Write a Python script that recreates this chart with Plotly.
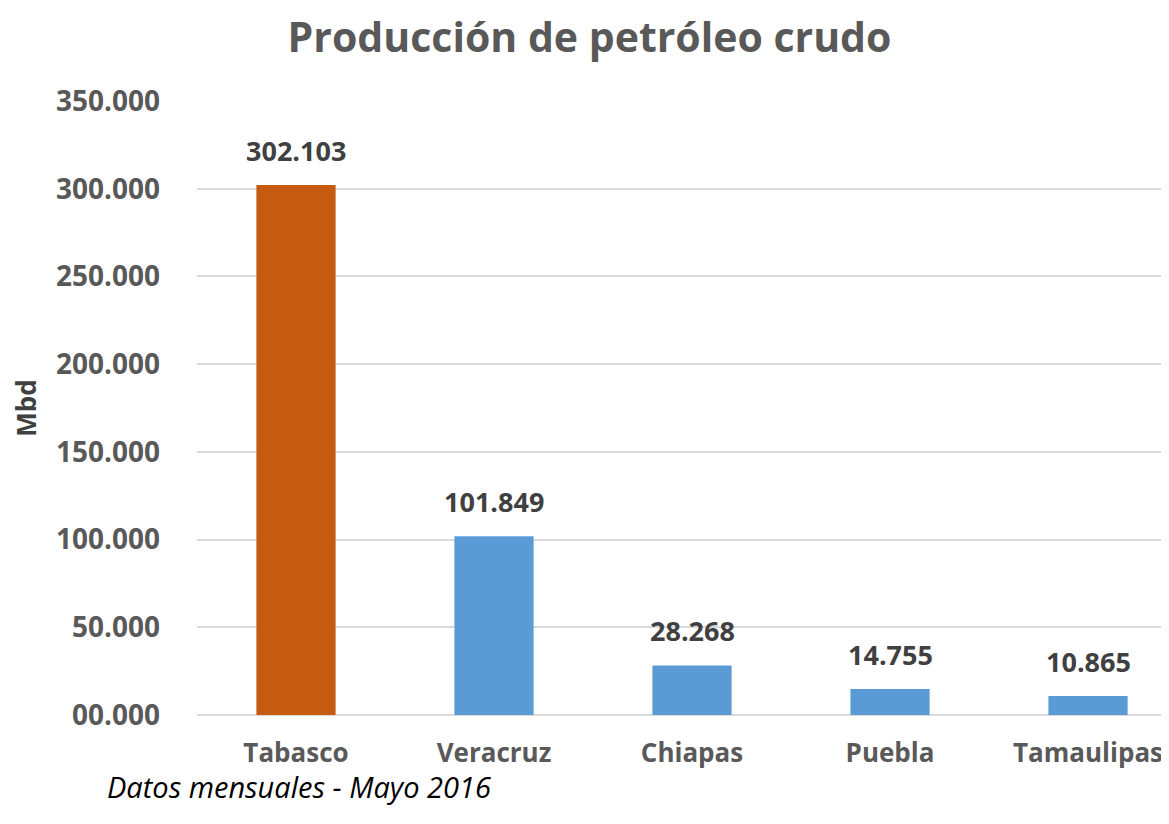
import plotly.graph_objects as go

categories = ["Tabasco", "Veracruz", "Chiapas", "Puebla", "Tamaulipas"]
values = [302.103, 101.849, 28.268, 14.755, 10.865]
labels = ["302.103", "101.849", "28.268", "14.755", "10.865"]
tick_vals = [0, 50, 100, 150, 200, 250, 300, 350]
tick_text = ["00.000", "50.000", "100.000", "150.000", "200.000", "250.000", "300.000", "350.000"]
colors = ["#C55A11", "#5B9BD5", "#5B9BD5", "#5B9BD5", "#5B9BD5"]

FONT = "Open Sans"

fig = go.Figure()
fig.add_trace(go.Bar(
    x=categories, y=values, marker=dict(color=colors, line=dict(width=0)),
    width=0.4, hoverinfo="skip",
))

for c, v, t in zip(categories, values, labels):
    fig.add_annotation(x=c, y=v, text=t, showarrow=False, yanchor="bottom",
                       yshift=14, font=dict(family=FONT, size=27, color="#404040", weight="bold"))

fig.add_annotation(xref="paper", yref="paper", x=-0.0947, y=-0.117,
                   xanchor="left", yanchor="middle", text="Datos mensuales - Mayo 2016",
                   showarrow=False,
                   font=dict(family=FONT, size=29, color="#000000", style="italic"))

fig.update_layout(
    width=1161, height=808,
    margin=dict(l=189, r=0, t=93, b=101),
    paper_bgcolor="white", plot_bgcolor="white",
    showlegend=False,
    title=dict(text="<b>Producción de petróleo crudo</b>", x=0.5009, xanchor="center",
               y=0.963, yanchor="middle",
               font=dict(family=FONT, size=41, color="#595959")),
    xaxis=dict(range=[-0.5, 4.409], showgrid=False, showline=False, ticks="",
               tickfont=dict(family=FONT, size=26, color="#595959", weight="bold"),
               ticklabelstandoff=20),
    yaxis=dict(range=[0, 350], tickvals=tick_vals, ticktext=tick_text,
               showgrid=True, gridcolor="#D9D9D9", gridwidth=1.5,
               zeroline=True, zerolinecolor="#D9D9D9", zerolinewidth=2,
               tickfont=dict(family=FONT, size=28, color="#595959", weight="bold"),
               ticklabelstandoff=36,
               title=dict(text="Mbd", standoff=18,
                          font=dict(family=FONT, size=26, color="#404040", weight="bold"))),
)

fig.write_html("out.html")
